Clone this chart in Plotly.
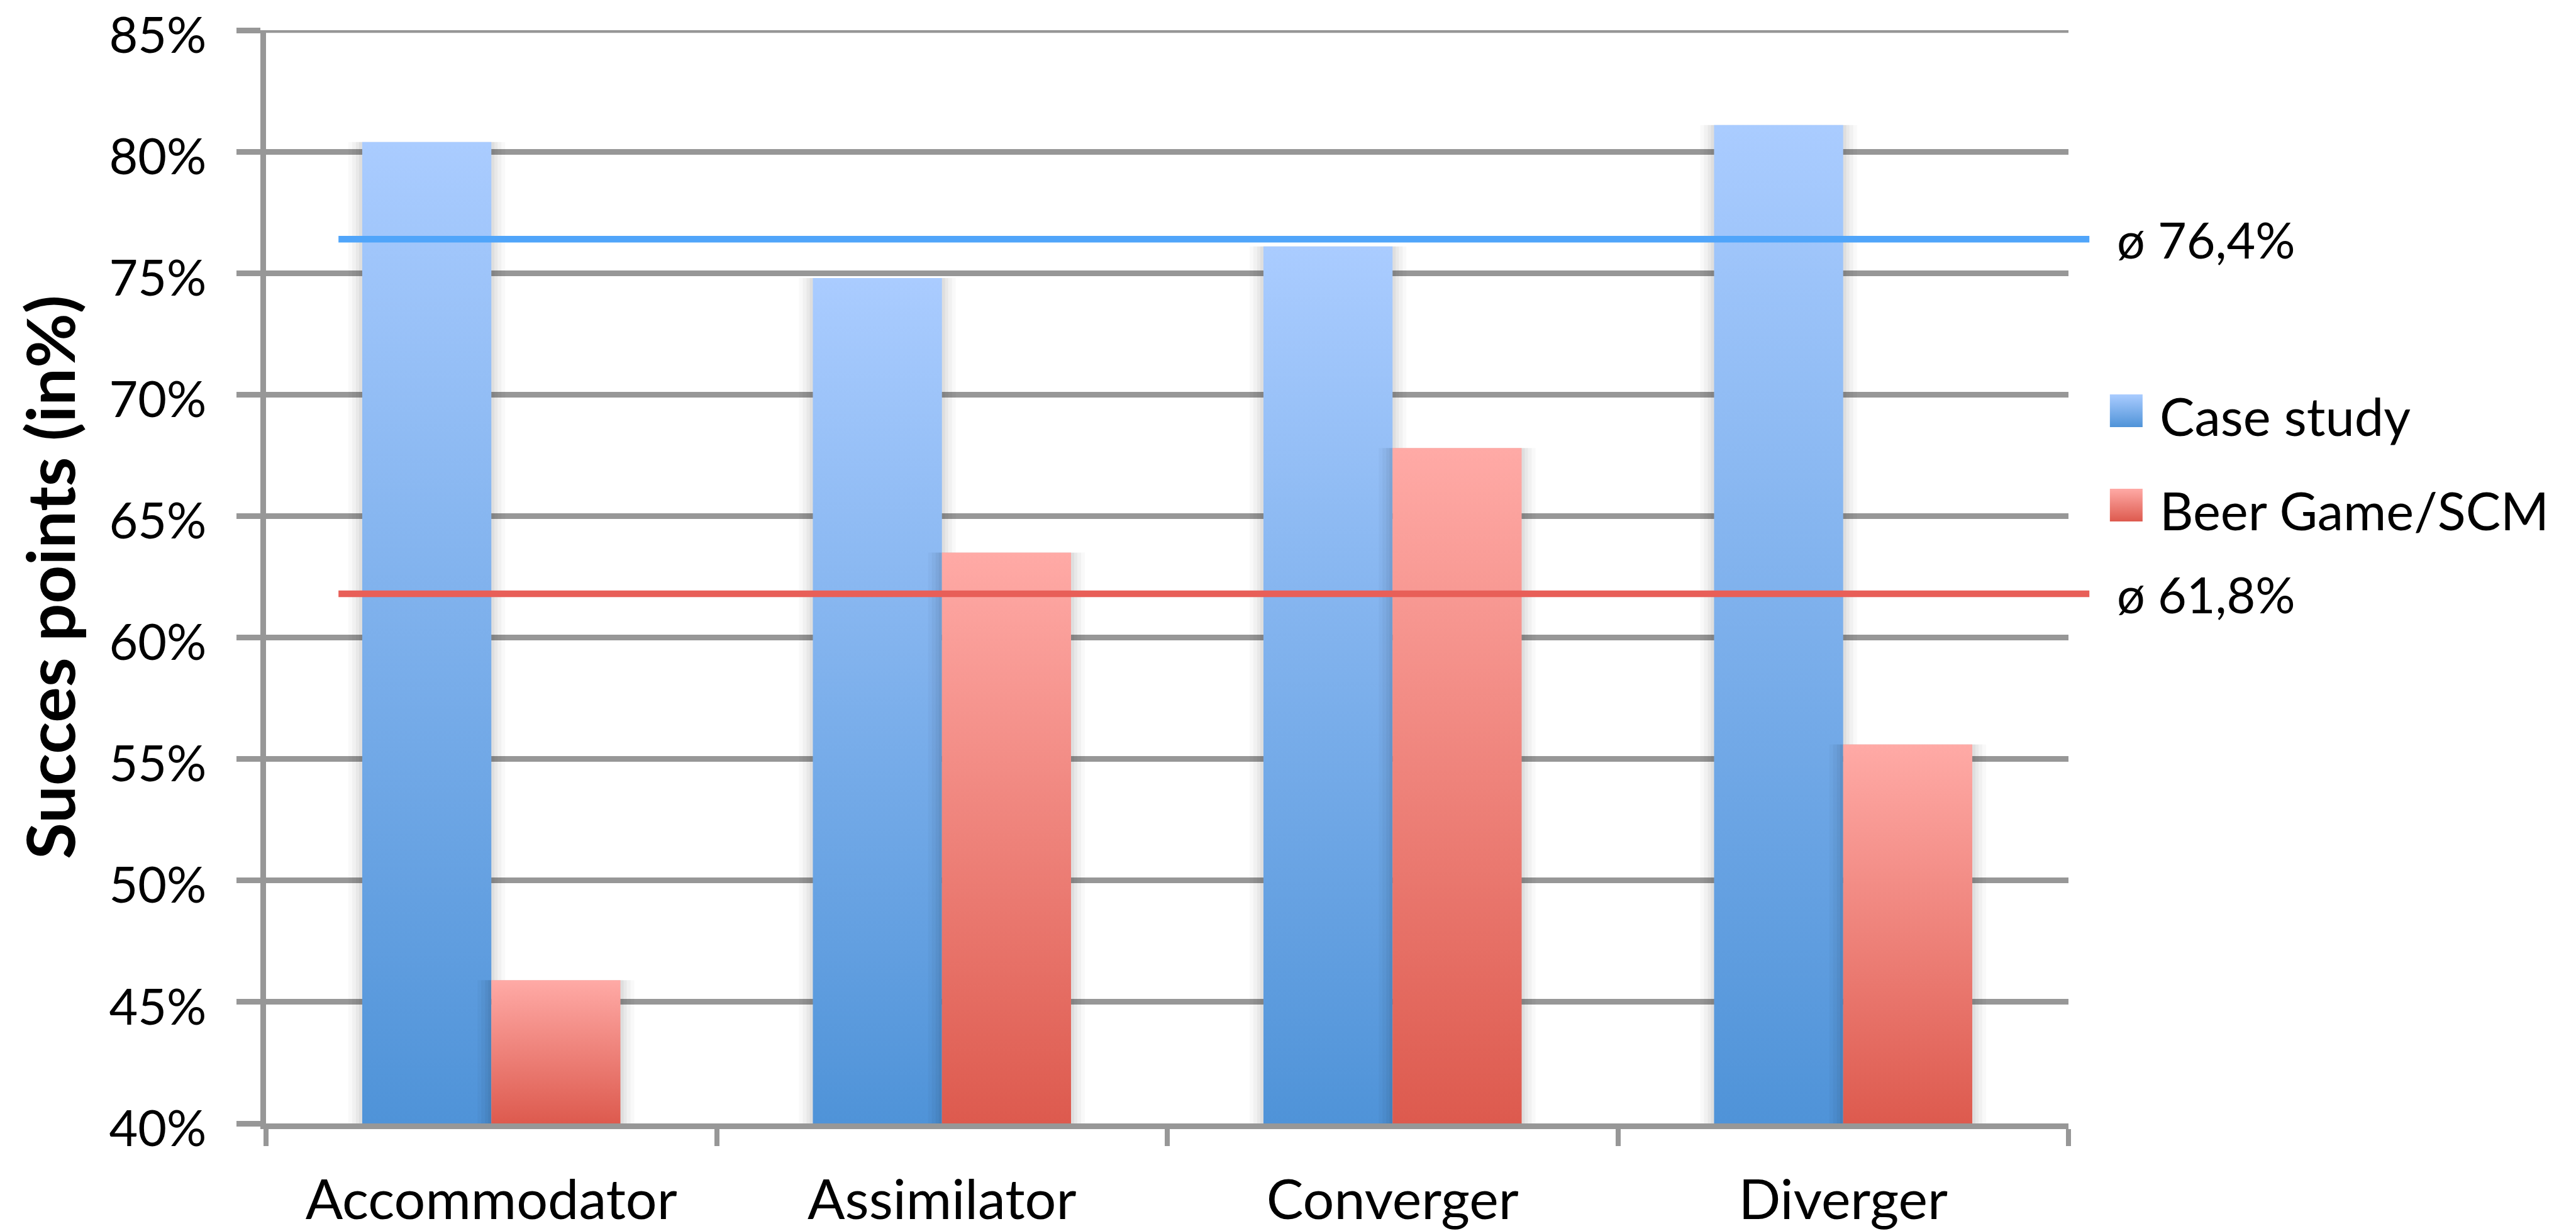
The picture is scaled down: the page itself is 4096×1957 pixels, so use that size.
import plotly.graph_objects as go

# ---- data -------------------------------------------------------------
categories = ["Accommodator", "Assimilator", "Converger", "Diverger"]
case_study = [80.4, 74.8, 76.1, 81.1]          # Case study (%)
beer_game = [45.9, 63.5, 67.8, 55.6]           # Beer Game/SCM (%)
series_names = ["Case study", "Beer Game/SCM"]
averages = [76.4, 61.8]                        # ø per series (%)
y_ticks = [40, 45, 50, 55, 60, 65, 70, 75, 80, 85]
y_tick_text = [f"{v}%" for v in y_ticks]

# ---- style ------------------------------------------------------------
FONT = "Lato"
GRAY = "#979797"
BLUE_TOP, BLUE_BOTTOM = "#AACCFF", "#4F93D8"
RED_TOP, RED_BOTTOM = "#FFAAA6", "#DD5A4E"
BLUE_LINE, RED_LINE = "#50A5FA", "#E85F58"
BAR_W = 0.2865           # width of one bar in category units
Y_MIN, Y_MAX = y_ticks[0], y_ticks[-1]
LW = 8.6                 # axis / grid line width

W, H = 4096, 1957
PLOT_L, PLOT_R, PLOT_T, PLOT_B = 423, 3289, 48, 1786   # plot area in px

# soft drop shadow around each bar: (horizontal grow in px, alpha)
SHADOW = [(22, 0.025), (16, 0.03), (10, 0.035), (5, 0.04)]
PX_PER_CAT = (PLOT_R - PLOT_L) / len(categories)

fig = go.Figure()


def add_bar(i, value, left, top_c, bottom_c):
    x0 = i + left
    x1 = x0 + BAR_W
    for grow, alpha in SHADOW:
        g = grow / PX_PER_CAT
        fig.add_trace(go.Scatter(
            x=[x0 - g, x1 + g, x1 + g, x0 - g, x0 - g],
            y=[Y_MIN, Y_MIN, value, value, Y_MIN],
            mode="lines", line=dict(width=0),
            fill="toself", fillcolor=f"rgba(0,0,0,{alpha})",
            hoverinfo="skip", showlegend=False,
        ))
    fig.add_trace(go.Scatter(
        x=[x0, x1, x1, x0, x0],
        y=[Y_MIN, Y_MIN, value, value, Y_MIN],
        mode="lines", line=dict(width=0, color=bottom_c),
        fill="toself",
        fillgradient=dict(type="vertical",
                          colorscale=[[0, bottom_c], [1, top_c]]),
        hoverinfo="skip", showlegend=False,
    ))


for i, v in enumerate(case_study):
    add_bar(i, v, -BAR_W, BLUE_TOP, BLUE_BOTTOM)
for i, v in enumerate(beer_game):
    add_bar(i, v, 0.0, RED_TOP, RED_BOTTOM)

# top gridline (plotly skips grid lines at the range ends)
fig.add_shape(type="line", xref="x domain", yref="y",
              x0=0, x1=1, y0=Y_MAX, y1=Y_MAX, layer="below",
              line=dict(color=GRAY, width=LW))

# average lines and their labels
LINE_X0, LINE_X1 = 0.0402, 1.0116
for avg, col in zip(averages, [BLUE_LINE, RED_LINE]):
    fig.add_shape(type="line", xref="x domain", yref="y",
                  x0=LINE_X0, x1=LINE_X1, y0=avg, y1=avg,
                  line=dict(color=col, width=10.5))
    fig.add_annotation(xref="x domain", yref="y", x=1.0262, y=avg,
                       text="ø " + f"{avg:.1f}".replace(".", ",") + "%",
                       showarrow=False, xanchor="left", yanchor="middle",
                       font=dict(family=FONT, size=79, color="black"))

# legend, placed on a helper axis pair that spans the whole figure (0..1)
LEG_SQ_X, LEG_TXT_X = 0.8254, 0.8379
leg_sq_y = [0.6663, 0.5897]
leg_txt_dy = -0.0040
leg_cols = [(BLUE_TOP, BLUE_BOTTOM), (RED_TOP, RED_BOTTOM)]
for name, yy, (top_c, bottom_c) in zip(series_names, leg_sq_y, leg_cols):
    fig.add_trace(go.Scatter(
        x=[LEG_SQ_X], y=[yy], xaxis="x2", yaxis="y2",
        mode="markers", cliponaxis=False,
        marker=dict(symbol="square", size=52, color=top_c,
                    gradient=dict(type="vertical", color=bottom_c),
                    line=dict(width=0)),
        hoverinfo="skip", showlegend=False,
    ))
    fig.add_annotation(xref="x2", yref="y2", x=LEG_TXT_X, y=yy + leg_txt_dy,
                       text=name, showarrow=False,
                       xanchor="left", yanchor="middle",
                       font=dict(family=FONT, size=83, color="black"))

# y-axis title
fig.add_annotation(xref="x domain", yref="y domain", x=-0.1204, y=0.5,
                   text="<b>Succes points (in%)</b>", textangle=-90,
                   showarrow=False, xanchor="center", yanchor="middle",
                   font=dict(family=FONT, size=106, color="black"))

fig.update_layout(
    width=W, height=H,
    margin=dict(l=0, r=0, t=0, b=0, pad=0, autoexpand=False),
    paper_bgcolor="white", plot_bgcolor="rgba(0,0,0,0)",
    showlegend=False,
    font=dict(family=FONT, color="black"),
    xaxis=dict(
        domain=[PLOT_L / W, PLOT_R / W], anchor="y",
        range=[-0.5, len(categories) - 0.5],
        tickmode="array", tickvals=list(range(len(categories))),
        ticktext=categories, ticks="",
        tickfont=dict(family=FONT, size=88, color="black"),
        ticklabelstandoff=38,
        showline=True, linecolor=GRAY, linewidth=LW,
        showgrid=False, zeroline=False,
        minor=dict(tickmode="array",
                   tickvals=[k - 0.5 for k in range(len(categories) + 1)],
                   ticks="outside", ticklen=27, tickwidth=8,
                   tickcolor=GRAY, showgrid=False),
    ),
    yaxis=dict(
        domain=[1 - PLOT_B / H, 1 - PLOT_T / H], anchor="x",
        range=[Y_MIN, Y_MAX],
        tickmode="array", tickvals=y_ticks, ticktext=y_tick_text,
        ticks="outside", ticklen=38, tickwidth=LW, tickcolor=GRAY,
        tickfont=dict(family=FONT, size=79, color="black"),
        ticklabelstandoff=32, ticklabelshift=8,
        ticklabeloverflow="allow",
        showgrid=True, gridcolor=GRAY, gridwidth=LW,
        showline=True, linecolor=GRAY, linewidth=LW,
        zeroline=False, layer="below traces",
    ),
    xaxis2=dict(domain=[0, 1], range=[0, 1], anchor="y2", visible=False,
                fixedrange=True),
    yaxis2=dict(domain=[0, 1], range=[0, 1], anchor="x2", visible=False,
                fixedrange=True),
)

fig.write_html("out.html")
